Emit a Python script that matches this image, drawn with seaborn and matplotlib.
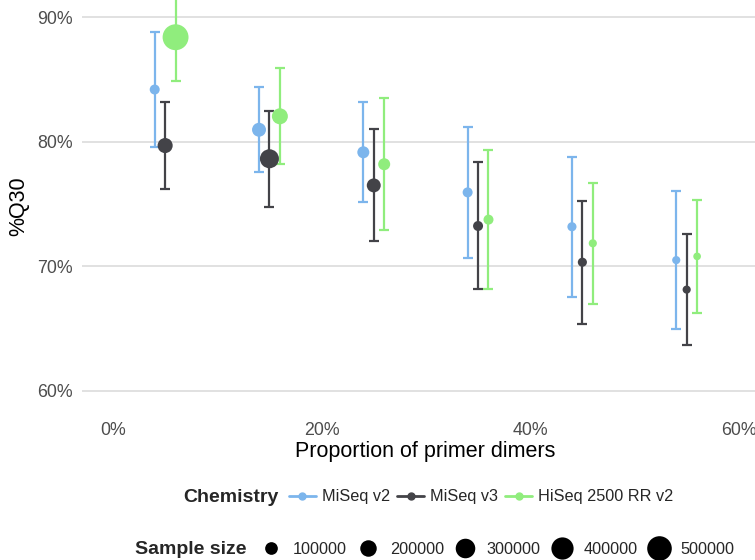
import numpy as np
import pandas as pd
import matplotlib
matplotlib.use("Agg")
import matplotlib.pyplot as plt
import seaborn as sns
from matplotlib.lines import Line2D

# ---------------- data ----------------
dimer_pct = [5, 15, 25, 35, 45, 55]
chemistries = ["MiSeq v2", "MiSeq v3", "HiSeq 2500 RR v2"]

q30_miseq_v2 = [84.2, 80.97, 79.16, 75.94, 73.18, 70.5]
sd_miseq_v2 = [4.65, 3.43, 4.03, 5.27, 5.62, 5.53]
n_miseq_v2 = [45000, 130000, 85000, 45000, 30000, 15000]

q30_miseq_v3 = [79.7, 78.64, 76.5, 73.24, 70.33, 68.13]
sd_miseq_v3 = [3.5, 3.85, 4.49, 5.1, 4.93, 4.43]
n_miseq_v3 = [160000, 280000, 130000, 45000, 30000, 15000]

q30_hiseq = [88.4, 82.05, 78.2, 73.75, 71.85, 70.8]
sd_hiseq = [3.5, 3.85, 5.28, 5.61, 4.88, 4.52]
n_hiseq = [560000, 185000, 85000, 45000, 15000, 8000]

x_ticks = [0, 20, 40, 60]
x_tick_labels = ["0%", "20%", "40%", "60%"]
y_ticks = [60, 70, 80, 90]
y_tick_labels = ["60%", "70%", "80%", "90%"]
size_breaks = [100000, 200000, 300000, 400000, 500000]
size_labels = ["100000", "200000", "300000", "400000", "500000"]

colors = ["#7cb5ec", "#434348", "#90ed7d"]

# ---------------- table ----------------
frames = []
for i, (chem, q, sd, n) in enumerate(zip(
        chemistries,
        [q30_miseq_v2, q30_miseq_v3, q30_hiseq],
        [sd_miseq_v2, sd_miseq_v3, sd_hiseq],
        [n_miseq_v2, n_miseq_v3, n_hiseq])):
    frames.append(pd.DataFrame({
        "dimers": dimer_pct, "chemistry": chem, "q30": q, "sd": sd, "n": n,
        "dodge": i - 1}))
df = pd.concat(frames, ignore_index=True)
df["xpos"] = df["dimers"] + df["dodge"] * 1.0

# ---------------- style ----------------
sns.set_style("white")
plt.rcParams["font.family"] = ["Liberation Sans", "DejaVu Sans"]

fig = plt.figure(figsize=(7.55, 5.6), dpi=100)
W, H = 755, 560
left, right, top, bottom = 82, 755, 0, 413
ax = fig.add_axes([left / W, 1 - bottom / H, (right - left) / W, (bottom - top) / H])

# size mapping (area in pt^2, linear in value)
size_norm = (0, 600000)
smin, smax = 25.9, 371.2

def size_of(v):
    return smin + (v - size_norm[0]) / (size_norm[1] - size_norm[0]) * (smax - smin)

for chem, col in zip(chemistries, colors):
    sub = df[df["chemistry"] == chem]
    ax.errorbar(sub["xpos"], sub["q30"], yerr=sub["sd"], fmt="none",
                ecolor=col, elinewidth=1.6, capsize=3.3, capthick=1.6, zorder=2)

sns.scatterplot(data=df, x="xpos", y="q30", hue="chemistry", hue_order=chemistries,
                palette=colors, size="n", sizes=(smin, smax), size_norm=size_norm,
                linewidth=0, legend=False, ax=ax, zorder=3)

ax.set_xlim(-2.97, 61.55)
ax.set_ylim(58.22, 91.39)
ax.set_xticks(x_ticks)
ax.set_xticklabels(x_tick_labels)
ax.set_yticks(y_ticks)
ax.set_yticklabels(y_tick_labels)
for s in ax.spines.values():
    s.set_visible(False)
ax.yaxis.grid(True, color="#D8D8D8", linewidth=1.1)
ax.xaxis.grid(False)
ax.set_axisbelow(True)
ax.tick_params(axis="both", length=3.3, width=1.0, color="#333333",
               labelcolor="#4D4D4D", labelsize=12.8, pad=3.0)

ax.set_xlabel("Proportion of primer dimers", fontsize=15.5, color="black")
ax.set_ylabel("%Q30", fontsize=15.5, color="black")
ax.xaxis.set_label_coords((425 - left) / (right - left), -(452 - bottom) / (bottom - top))
ax.xaxis.label.set_va("center")
ax.yaxis.set_label_coords(-(left - 19) / (right - left), (bottom - 206) / (bottom - top))
ax.yaxis.label.set_va("center")

# ---------------- legends ----------------
fs = 11.7
fig.text(183 / W, 1 - 497 / H, "Chemistry", fontsize=14, fontweight="bold",
         ha="left", va="center")
chem_handles = [Line2D([], [], color=c, marker="o", markersize=5.0, linewidth=2.0)
                for c in colors]
leg1 = fig.legend(chem_handles, chemistries, loc="center left",
                  bbox_to_anchor=(289 / W, 1 - 497 / H), ncol=3, frameon=False,
                  fontsize=fs, handlelength=1.66, handletextpad=0.37,
                  columnspacing=0.43, borderpad=0, borderaxespad=0)

fig.text(135 / W, 1 - 549 / H, "Sample size", fontsize=14, fontweight="bold",
         ha="left", va="center")
size_handles = [Line2D([], [], color="black", marker="o", linestyle="",
                       markersize=np.sqrt(size_of(v)), markeredgewidth=0)
                for v in size_breaks]
leg2 = fig.legend(size_handles, size_labels, loc="center left",
                  bbox_to_anchor=(258 / W, 1 - 549 / H), ncol=5, frameon=False,
                  fontsize=fs, handlelength=1.6, handletextpad=0.55,
                  columnspacing=0.49, borderpad=0, borderaxespad=0)

fig.savefig("out.png", dpi=100)
